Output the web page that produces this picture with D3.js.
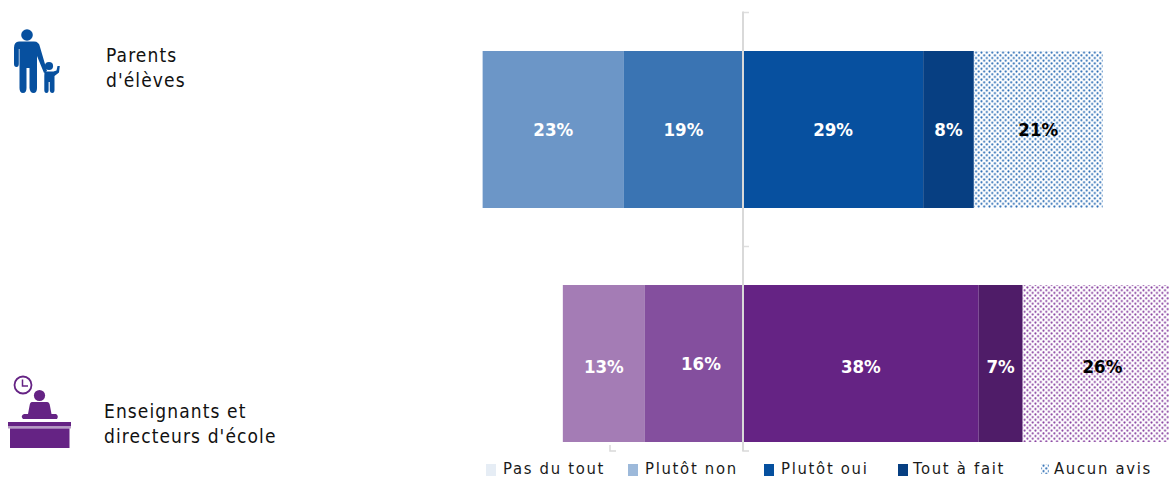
<!DOCTYPE html>
<html>
<head>
<meta charset="utf-8">
<script src="https://cdn.jsdelivr.net/npm/d3@7/dist/d3.min.js"></script>
<style>
  html, body { margin: 0; padding: 0; background: #fff; overflow: hidden; }
  text { font-family: "DejaVu Sans Condensed", "DejaVu Sans", sans-serif; }
</style>
</head>
<body>
<div id="chart"></div>
<script>
const groups = ["Parents d'élèves", "Enseignants et directeurs d'école"];
const answers = ["Pas du tout", "Plutôt non", "Plutôt oui", "Tout à fait", "Aucun avis"];
const parents = [22.9, 19.3, 29.2, 8.2, 20.9];
const teachers = [13.3, 15.9, 38.2, 7.1, 25.9];
const parentColors = ["#6c96c7", "#3a74b3", "#07509f", "#073f82", "#2468b2"];
const teacherColors = ["#a47cb5", "#844f9e", "#652384", "#4f1c68", "#83399c"];
const legendColors = ["#e6edf5", "#9db9da", "#05509f", "#073f82"];

const w = 1169, h = 477;
const svg = d3.select("#chart").append("svg")
  .attr("width", w).attr("height", h).style("display", "block");

const defs = svg.append("defs");
const addDots = (id, color) => {
  const p = defs.append("pattern").attr("id", id)
    .attr("patternUnits", "userSpaceOnUse")
    .attr("width", 5.4).attr("height", 5.4);
  p.append("circle").attr("cx", 1.35).attr("cy", 1.35).attr("r", 1.05).attr("fill", color);
  p.append("circle").attr("cx", 4.05).attr("cy", 4.05).attr("r", 1.05).attr("fill", color);
};
addDots("dotsBlue", parentColors[4]);
addDots("dotsPurple", teacherColors[4]);

// zero sits between "plutot non" and "plutot oui", 6.17px per point
const x = d3.scaleLinear().domain([-50, 50]).range([743 - 308.5, 743 + 308.5]);
const y = d3.scaleBand().domain(groups).range([51, 442]).paddingInner(77 / 234);

const rows = [
  { group: groups[0], values: parents, colors: parentColors, dots: "dotsBlue" },
  { group: groups[1], values: teachers, colors: teacherColors, dots: "dotsPurple" }
];

rows.forEach((row, r) => {
  // negative answers stack to the left of zero, the rest to the right
  let cum = -(row.values[0] + row.values[1]);
  const segs = row.values.map((v, i) => {
    const s = { i, v, start: cum, end: cum + v };
    cum += v;
    return s;
  });
  const moved = d => r === 1 && d.i === 1; // the 16% label sits off centre in the original
  const g = svg.append("g");
  g.selectAll("rect").data(segs).enter().append("rect")
    .attr("x", d => x(d.start))
    .attr("y", y(row.group))
    .attr("width", d => x(d.end) - x(d.start))
    .attr("height", y.bandwidth())
    .attr("fill", d => d.i === 4 ? `url(#${row.dots})` : row.colors[d.i]);
  g.selectAll("text").data(segs).enter().append("text")
    .attr("x", d => (x(d.start) + x(d.end)) / 2 + (moved(d) ? 7 : 0))
    .attr("y", d => y(row.group) + y.bandwidth() / 2 + (r === 1 && !moved(d) ? 2.5 : 0))
    .attr("dy", "0.36em")
    .attr("text-anchor", "middle")
    .attr("font-size", 18.5)
    .attr("font-weight", 700)
    .attr("fill", d => d.i === 4 ? "#000" : "#fff")
    .text(d => Math.round(d.v) + "%");
});

// centre axis, ticks only
const axisScale = d3.scaleLinear().domain([0, 1]).range([12, 246]);
const axis = d3.axisRight(axisScale).tickValues([0, 1]).tickSize(6).tickFormat("");
const axisG = svg.append("g").attr("transform", "translate(743,0)").call(axis);
axisG.selectAll("path").remove();
axisG.selectAll("line").attr("stroke", "#dedede").attr("stroke-width", 1.5);
svg.append("line").attr("x1", 743).attr("x2", 743).attr("y1", 11.5).attr("y2", 451)
  .attr("stroke", "#d9d9d9").attr("stroke-width", 2);
[610, 743].forEach(px => {
  svg.append("path").attr("d", `M${px},445V451H${px + 6}`)
    .attr("fill", "none").attr("stroke", "#d9d9d9").attr("stroke-width", 1.5);
});

// group labels
const label = (lines, lx, ly) => {
  const t = svg.append("text").attr("x", lx).attr("y", ly)
    .attr("font-size", 19).attr("letter-spacing", 1.1).attr("fill", "#111");
  lines.forEach((s, i) => t.append("tspan").attr("x", lx).attr("dy", i ? 25 : 0).text(s));
};
label(["Parents", "d'élèves"], 106, 62);
label(["Enseignants et", "directeurs d'école"], 104, 418);

// parent and child icon
const blue = "#07509f";
const adult = svg.append("g").attr("fill", blue);
adult.append("circle").attr("cx", 27).attr("cy", 35).attr("r", 5.8);
adult.append("path").attr("d", "M19,41.5H34Q39,41.5 40,47L47,71L44,73L37,56V88Q37,93 33.5,93Q30,93 29.5,88V68H26.5V88Q26.5,93 23,93Q19.5,93 19.5,88V49H18.8V64Q18.8,67 16.5,67Q14,67 14,64V48Q14,41.5 19,41.5Z");
adult.append("circle").attr("cx", 49).attr("cy", 66).attr("r", 4.1);
adult.append("path").attr("d", "M44.5,71.5H53.5L56.5,70.5L57.5,66H59.8L59,72.5L54.5,76V90Q54.5,93 52.3,93Q50,93 49.8,90V82H48.6V90Q48.6,93 46.5,93Q44.3,93 44.3,90V76Z");

// teacher at desk icon
const purple = "#652384";
const desk = svg.append("g").attr("fill", purple);
desk.append("circle").attr("cx", 39.5).attr("cy", 395.5).attr("r", 5.6);
desk.append("path").attr("d", "M32,402H47Q49.5,402 50,406L51.5,414L56,414Q59,416 57,419H23Q20,416 24,414L28,414L29.5,406Q30,402 32,402Z");
desk.append("rect").attr("x", 8).attr("y", 422).attr("width", 63).attr("height", 4.5);
desk.append("rect").attr("x", 8).attr("y", 426.5).attr("width", 63).attr("height", 2).attr("fill", "#b79cc6");
desk.append("rect").attr("x", 10).attr("y", 428.5).attr("width", 59.5).attr("height", 19.5);
svg.append("circle").attr("cx", 23).attr("cy", 385).attr("r", 8.5)
  .attr("fill", "#fff").attr("stroke", purple).attr("stroke-width", 1.8);
svg.append("path").attr("d", "M22.5,379.5V386H28").attr("fill", "none").attr("stroke", purple).attr("stroke-width", 1.5);

// legend
const legendX = d3.scaleOrdinal().domain(answers).range([486, 628, 764, 898, 1041]);
const textX = d3.scaleOrdinal().domain(answers).range([503, 645, 781, 913, 1054]);
const legend = svg.append("g");
answers.forEach((a, i) => {
  legend.append("rect").attr("x", legendX(a)).attr("y", 464).attr("width", i < 4 ? 10 : 8).attr("height", i < 4 ? 12 : 10)
    .attr("fill", i < 4 ? legendColors[i] : "url(#dotsBlue)");
  legend.append("text").attr("x", textX(a)).attr("y", 473.5)
    .attr("font-size", 16.5).attr("letter-spacing", 1.7).attr("fill", "#1a1a1a").text(a);
});
</script>
</body>
</html>
